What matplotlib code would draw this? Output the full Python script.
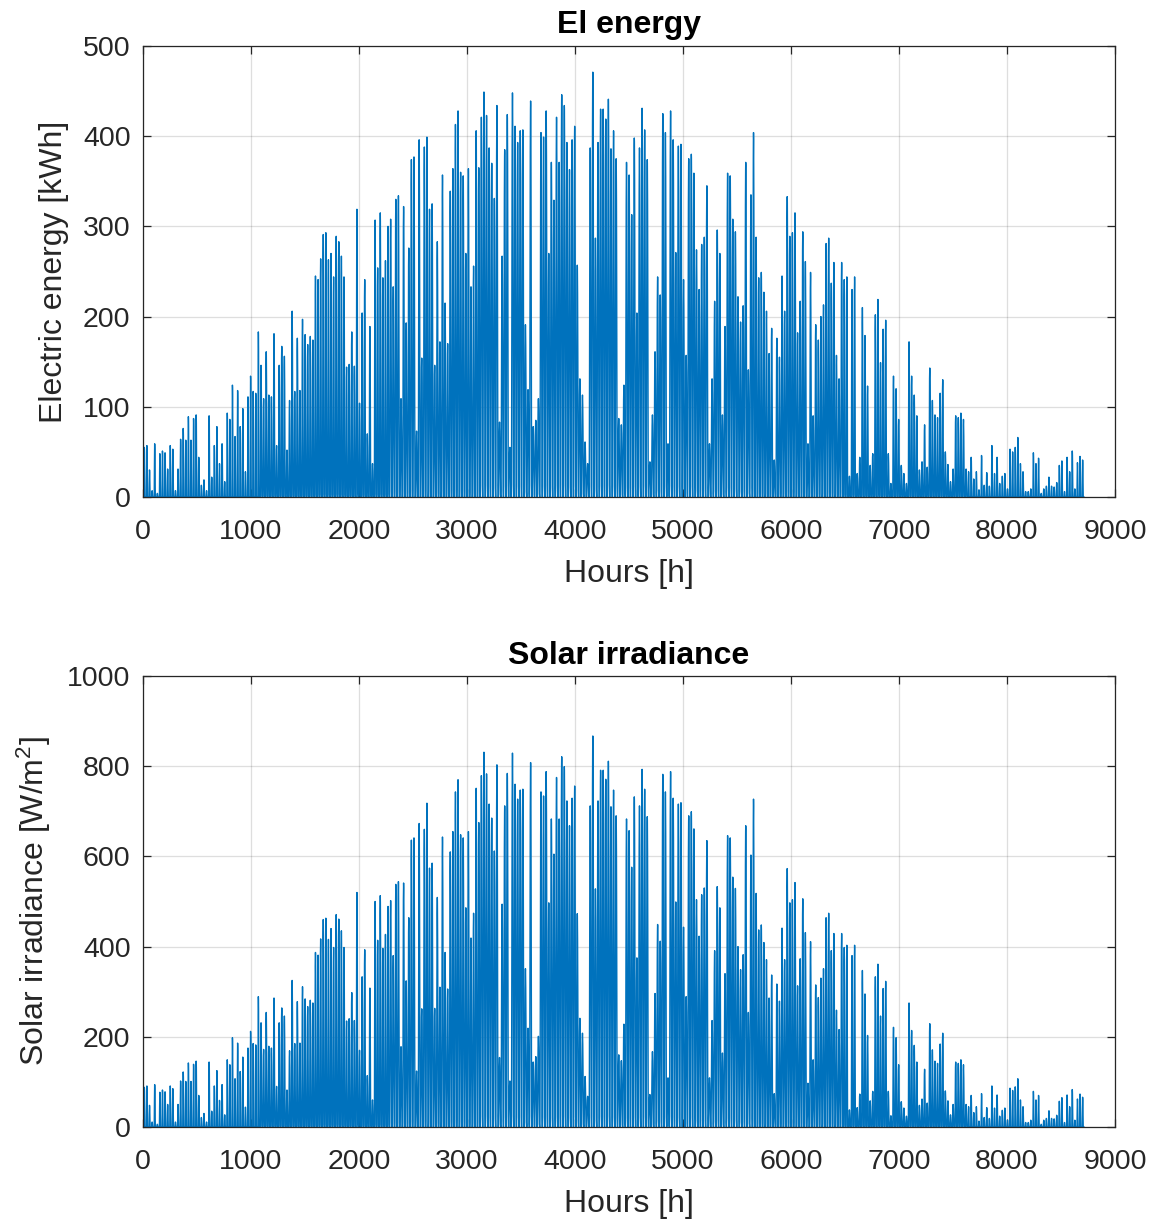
import numpy as np
import matplotlib
matplotlib.use('Agg')
import matplotlib.pyplot as plt

plt.rcParams['font.family'] = ['Liberation Sans', 'DejaVu Sans']
plt.rcParams['mathtext.fontset'] = 'custom'
plt.rcParams['mathtext.rm'] = 'Liberation Sans'
plt.rcParams['mathtext.it'] = 'Liberation Sans:italic'
plt.rcParams['mathtext.default'] = 'regular'

# Daily peak electric energy [kWh] (one value per day)
energy_daily_peak = [
    55, 57, 30, 7, 59, 4, 48, 51, 49, 31, 57, 53, 7, 31, 64, 76, 63, 89, 63, 87, 91, 44, 13, 19, 7, 90, 22, 57, 78, 37, 59, 17, 93, 86, 124, 67,
    118, 78, 98, 28, 111, 134, 117, 115, 183, 146, 109, 161, 113, 111, 181, 57, 146, 167, 156, 52, 107, 206, 117, 176, 118, 197, 180, 169, 178, 174, 245, 241, 264, 291, 293, 263,
    270, 244, 289, 283, 267, 244, 144, 147, 183, 145, 319, 104, 204, 241, 70, 189, 37, 307, 254, 315, 243, 262, 300, 308, 233, 330, 334, 109, 322, 193, 276, 374, 377, 73, 396, 154, 388,
    399, 319, 325, 146, 283, 172, 357, 215, 170, 339, 364, 413, 428, 360, 356, 270, 364, 233, 256, 406, 365, 421, 449, 423, 387, 370, 331, 434, 83, 267, 385, 424, 55, 448, 411, 393,
    406, 407, 191, 119, 439, 78, 85, 109, 404, 399, 428, 270, 371, 329, 421, 371, 446, 434, 393, 363, 396, 411, 257, 131, 113, 61, 37, 387, 471, 287, 393, 430, 430, 419, 441, 386, 406,
    375, 87, 80, 124, 371, 357, 313, 398, 204, 387, 431, 407, 374, 39, 91, 161, 244, 224, 425, 404, 59, 428, 396, 271, 389, 391, 241, 157, 375, 380, 359, 274, 230, 280, 288, 345, 59,
    131, 217, 296, 270, 91, 189, 359, 356, 308, 294, 222, 194, 212, 371, 141, 335, 404, 288, 243, 249, 227, 206, 159, 187, 41, 176, 155, 245, 206, 333, 289, 293, 315, 182, 217, 294,
    261, 59, 249, 90, 191, 174, 200, 213, 281, 287, 237, 260, 157, 131, 260, 241, 244, 23, 230, 244, 26, 44, 210, 179, 123, 35, 48, 202, 219, 149, 186, 196, 48, 15, 134, 120,
    86, 35, 26, 15, 172, 134, 113, 90, 30, 39, 80, 33, 143, 107, 91, 88, 115, 130, 50, 36, 17, 31, 90, 88, 93, 86, 31, 28, 44, 20, 28, 8, 46, 13, 27, 12, 57,
    26, 44, 15, 23, 26, 9, 53, 50, 55, 66, 37, 28, 6, 6, 9, 49, 37, 43, 4, 9, 12, 22, 12, 11, 16, 35, 40, 6, 44, 28, 51, 9, 38, 45, 41,
]

# Daily peak solar irradiance [W/m^2] (one value per day)
irradiance_daily_peak = [
    88, 91, 48, 11, 94, 6, 77, 82, 78, 50, 91, 85, 11, 50, 102, 122, 101, 142, 101, 139, 146, 70, 21, 30, 11, 144, 35, 91, 125, 59, 94, 27, 149, 138, 198, 107,
    186, 123, 155, 44, 175, 212, 185, 182, 289, 231, 172, 254, 179, 175, 286, 90, 231, 264, 246, 82, 169, 325, 185, 278, 186, 311, 284, 267, 281, 275, 387, 381, 417, 460, 463, 416,
    440, 398, 471, 461, 435, 398, 235, 240, 298, 236, 520, 170, 333, 393, 114, 308, 60, 500, 414, 513, 396, 427, 489, 502, 380, 538, 544, 178, 541, 324, 464, 636, 641, 124, 673, 262, 660,
    718, 574, 585, 263, 509, 310, 643, 387, 306, 610, 655, 743, 770, 648, 641, 486, 655, 419, 474, 751, 675, 779, 831, 783, 716, 685, 612, 803, 154, 494, 712, 784, 102, 829, 760, 727,
    747, 749, 351, 219, 808, 144, 156, 201, 743, 734, 788, 497, 683, 605, 775, 683, 821, 799, 723, 668, 729, 756, 473, 241, 208, 112, 68, 712, 867, 528, 723, 791, 791, 771, 811, 710, 747,
    690, 160, 147, 228, 683, 657, 576, 732, 375, 712, 793, 749, 688, 72, 167, 296, 449, 412, 782, 743, 109, 788, 729, 499, 716, 719, 443, 289, 690, 699, 661, 504, 423, 515, 530, 635, 109,
    236, 391, 533, 486, 164, 340, 646, 641, 554, 529, 400, 349, 382, 668, 254, 603, 727, 518, 437, 448, 409, 371, 286, 337, 74, 317, 279, 441, 371, 573, 497, 504, 542, 313, 373, 506,
    431, 97, 411, 149, 315, 287, 330, 351, 464, 474, 391, 429, 259, 216, 429, 398, 403, 38, 380, 403, 43, 73, 347, 295, 203, 58, 79, 333, 361, 246, 307, 323, 79, 25, 221, 198,
    138, 56, 42, 24, 275, 214, 181, 144, 48, 62, 128, 53, 229, 171, 146, 141, 184, 208, 80, 58, 27, 50, 144, 141, 149, 138, 50, 45, 70, 32, 45, 13, 74, 21, 43, 19, 91,
    42, 71, 24, 37, 42, 15, 86, 81, 89, 107, 60, 45, 10, 10, 15, 79, 60, 70, 6, 15, 19, 36, 19, 18, 26, 57, 65, 10, 71, 45, 83, 15, 62, 73, 66,
]

# Relative hourly shape of a day (fraction of the daily peak), by season
profile_winter = [0, 0, 0, 0, 0, 0, 0, 0, 0.2, 0.6, 0.88, 1.0, 0.98, 0.9, 0.62, 0.25, 0.03, 0, 0, 0, 0, 0, 0, 0]
profile_equinox = [0, 0, 0, 0, 0, 0, 0.1, 0.35, 0.6, 0.8, 0.92, 0.98, 1.0, 0.97, 0.9, 0.78, 0.58, 0.32, 0.1, 0.01, 0, 0, 0, 0]
profile_shoulder = [0, 0, 0, 0, 0.02, 0.1, 0.25, 0.45, 0.65, 0.82, 0.93, 0.98, 1.0, 0.98, 0.92, 0.82, 0.66, 0.46, 0.26, 0.1, 0.02, 0, 0, 0]
profile_summer = [0, 0, 0, 0.03, 0.12, 0.28, 0.45, 0.62, 0.76, 0.87, 0.94, 0.98, 1.0, 0.99, 0.95, 0.88, 0.78, 0.64, 0.47, 0.3, 0.13, 0.03, 0, 0]

x_ticks = [0, 1000, 2000, 3000, 4000, 5000, 6000, 7000, 8000, 9000]
energy_yticks = [0, 100, 200, 300, 400, 500]
irr_yticks = [0, 200, 400, 600, 800, 1000]


def hourly(peaks):
    rows = []
    for d, p in enumerate(peaks):
        if d < 45 or d >= 318:
            prof = profile_winter
        elif d < 95 or d >= 270:
            prof = profile_equinox
        elif d < 130 or d >= 235:
            prof = profile_shoulder
        else:
            prof = profile_summer
        rows.append(p * np.asarray(prof, dtype=float))
    return np.concatenate(rows)


energy = hourly(energy_daily_peak)
irr = hourly(irradiance_daily_peak)
hours = np.arange(1, len(energy) + 1)

line_color = '#0072BD'
dark = '#262626'

fig = plt.figure(figsize=(11.55, 12.22), dpi=100)
fig.patch.set_facecolor('white')

L, W, H = 143 / 1155, 972 / 1155, 451 / 1222
ax1 = fig.add_axes([L, 1 - 497 / 1222, W, H])
ax2 = fig.add_axes([L, 1 - 1127 / 1222, W, H])


def style(ax, yticks, ylabel, title, series):
    ax.plot(hours, series, color=line_color, lw=1.0)
    ax.set_xlim(0, 9000)
    ax.set_ylim(yticks[0], yticks[-1])
    ax.set_xticks(x_ticks)
    ax.set_yticks(yticks)
    ax.set_axisbelow(True)
    ax.grid(True, color=dark, alpha=0.15, lw=0.9)
    ax.tick_params(direction='in', length=6, width=0.9, top=True, right=True,
                   labelsize=20.5, colors=dark)
    ax.tick_params(axis='x', pad=16)
    ax.tick_params(axis='y', pad=9)
    for s in ax.spines.values():
        s.set_color(dark)
        s.set_linewidth(0.9)
    ax.set_xlabel('Hours [h]', fontsize=23, color=dark, labelpad=10)
    ax.set_ylabel(ylabel, fontsize=23, color=dark, labelpad=10)
    ax.set_title(title, fontsize=23, fontweight='bold', color='black', pad=9)


style(ax1, energy_yticks, 'Electric energy [kWh]', 'El energy', energy)
style(ax2, irr_yticks, r'Solar irradiance [W/m$^{2}$]', 'Solar irradiance', irr)

fig.savefig('out.png', dpi=100, facecolor='white')
